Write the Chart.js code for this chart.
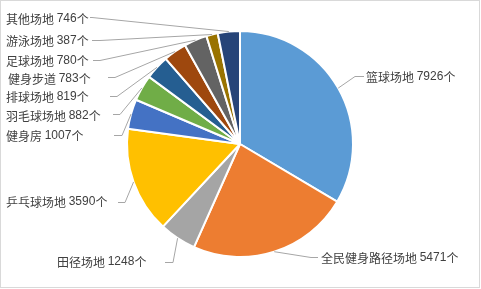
<!DOCTYPE html>
<html>
<head>
<meta charset="utf-8">
<script src="https://cdn.jsdelivr.net/npm/chart.js@4.4.1/dist/chart.umd.min.js"></script>
<style>
  html, body { margin: 0; padding: 0; background: #fff; }
  canvas { display: block; }
</style>
</head>
<body>
<canvas id="venueChart" width="481" height="289"></canvas>
<script>
const categories = ["篮球场地", "全民健身路径场地", "田径场地", "乒乓球场地", "健身房", "羽毛球场地", "排球场地", "健身步道", "足球场地", "游泳场地", "其他场地"]
const counts = [7926, 5471, 1248, 3590, 1007, 882, 819, 783, 780, 387, 746]
const unit = "个"

const sliceColors = ["#5B9BD5", "#ED7D31", "#A5A5A5", "#FFC000", "#4472C4", "#70AD47", "#255E91", "#9E480E", "#636363", "#997300", "#264478"]

// where each outside label sits: text x, text y, leader end x, elbow x, leader y
const labelLayout = [
    [366, 77, 364, 355, 76],
    [321, 258, 318, 311, 257],
    [57, 262, 165, 173, 262],
    [6, 202, 118, 125, 202],
    [6, 136, 114, 122, 135],
    [6, 116, 113, 120, 114],
    [6, 97, 110, 117, 96],
    [8, 79, 108, 115, 77],
    [6, 61, 93, 100, 60],
    [6, 41, 92, 100, 40],
    [6, 19, 90, 92, 17],
]

const outsideLabels = {
    id: "outsideLabels",
    beforeDraw(chart) {
        const ctx = chart.ctx;
        ctx.save();
        ctx.strokeStyle = "#D9D9D9";
        ctx.lineWidth = 1;
        ctx.strokeRect(0.5, 0.5, 479, 287);
        ctx.restore();
    },
    afterDatasetsDraw(chart) {
        const ctx = chart.ctx;
        const arcs = chart.getDatasetMeta(0).data;
        ctx.save();
        arcs.forEach((arc, i) => {
            const p = arc.getProps(["x", "y", "startAngle", "endAngle", "outerRadius"], true);
            const mid = (p.startAngle + p.endAngle) / 2;
            const px = p.x + Math.cos(mid) * p.outerRadius;
            const py = p.y + Math.sin(mid) * p.outerRadius;
            const [tx, ty, ex, bx, ly] = labelLayout[i];

            ctx.strokeStyle = "#A6A6A6";
            ctx.lineWidth = 1;
            ctx.beginPath();
            ctx.moveTo(px, py);
            ctx.lineTo(bx, ly + 0.5);
            ctx.lineTo(ex, ly + 0.5);
            ctx.stroke();

            ctx.fillStyle = "#404040";
            ctx.textBaseline = "middle";
            ctx.textAlign = "left";
            ctx.font = "12px 'Noto Sans CJK SC'";
            const name = categories[i] + " ";
            ctx.fillText(name, tx, ty);
            const w = ctx.measureText(name).width;
            ctx.font = "12px 'Liberation Sans'";
            const num = String(counts[i]);
            ctx.fillText(num, tx + w, ty);
            const w2 = ctx.measureText(num).width;
            ctx.font = "12px 'Noto Sans CJK SC'";
            ctx.fillText(unit, tx + w + w2, ty);
        });
        ctx.restore();
    }
}

const venueChart = new Chart(document.getElementById("venueChart"), {
    type: "pie",
    data: {
        labels: categories,
        datasets: [{
            data: counts,
            backgroundColor: sliceColors,
            borderColor: "#FFFFFF",
            borderWidth: 2,
        }]
    },
    options: {
        responsive: false,
        animation: false,
        layout: { padding: { top: 30, bottom: 31, left: 0, right: 1 } },
        plugins: {
            legend: { display: false },
            tooltip: { enabled: false },
        }
    },
    plugins: [outsideLabels]
});
</script>
</body>
</html>
